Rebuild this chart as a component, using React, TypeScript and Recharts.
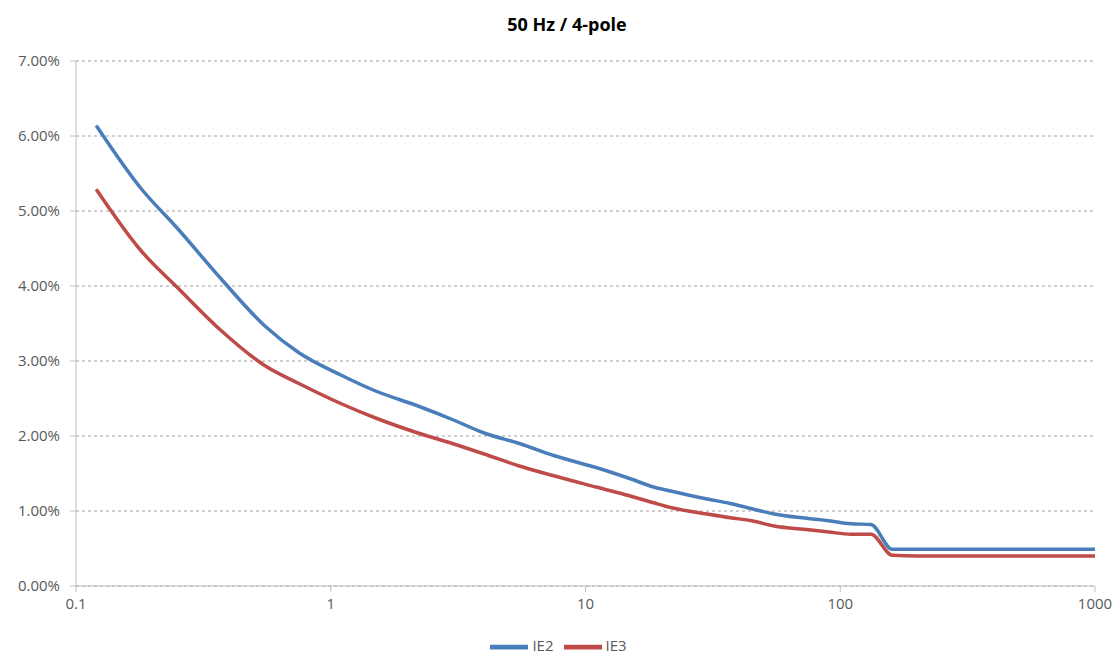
import React from 'react';
import { LineChart, Line, XAxis, YAxis, CartesianGrid, Legend } from 'recharts';

// motor rated power (kW)
const powers = [0.12, 0.18, 0.25, 0.37, 0.55, 0.75, 1.1, 1.5, 2.2, 3, 4, 5.5, 7.5, 11, 15, 18.5, 22, 30, 37, 45, 55, 75, 90, 110, 132, 160, 200, 250, 315, 355, 400, 450, 500, 560, 630, 710, 800, 900, 1000];

const ie2 = [6.14, 5.3, 4.77, 4.1, 3.47, 3.11, 2.81, 2.6, 2.4, 2.22, 2.04, 1.9, 1.74, 1.58, 1.43, 1.32, 1.26, 1.16, 1.1, 1.03, 0.96, 0.9, 0.87, 0.83, 0.82, 0.49, 0.49, 0.49, 0.49, 0.49, 0.49, 0.49, 0.49, 0.49, 0.49, 0.49, 0.49, 0.49, 0.49];
const ie3 = [5.29, 4.47, 3.98, 3.41, 2.94, 2.7, 2.43, 2.24, 2.04, 1.9, 1.76, 1.6, 1.47, 1.32, 1.2, 1.11, 1.04, 0.96, 0.91, 0.87, 0.8, 0.75, 0.72, 0.69, 0.69, 0.41, 0.4, 0.4, 0.4, 0.4, 0.4, 0.4, 0.4, 0.4, 0.4, 0.4, 0.4, 0.4, 0.4];

const xTicks = [0.1, 1, 10, 100, 1000];
const yTicks = [0, 1, 2, 3, 4, 5, 6, 7];

const data = powers.map((p, i) => ({ kw: p, IE2: ie2[i], IE3: ie3[i] }));

const FONT = '"Open Sans", "Liberation Sans", sans-serif';

export default function App() {
  return (
    <div style={{ position: 'absolute', left: 0, top: 0, width: 1118, height: 655, background: '#fff', fontFamily: FONT }}>
      <div style={{ position: 'absolute', top: 12, left: 0, width: 1134, textAlign: 'center', fontSize: 18, fontWeight: 'bold', color: '#000' }}>
        50 Hz / 4-pole
      </div>
      <LineChart width={1118} height={655} data={data} margin={{ top: 61, right: 23, bottom: 1, left: 0 }}>
        <CartesianGrid vertical={false} stroke="#a0a0a0" strokeDasharray="3 3" />
        <XAxis
          dataKey="kw"
          type="number"
          scale="log"
          domain={[0.1, 1000]}
          ticks={xTicks}
          tickFormatter={(v: number) => String(v)}
          stroke="#bfbfbf"
          tick={{ fill: '#595959', fontSize: 15, fontFamily: FONT }}
          tickSize={6}
          tickMargin={6}
          height={30}
          allowDataOverflow
        />
        <YAxis
          domain={[0, 7]}
          ticks={yTicks}
          tickFormatter={(v: number) => v.toFixed(2) + '%'}
          stroke="#bfbfbf"
          tick={{ fill: '#595959', fontSize: 15, fontFamily: FONT }}
          tickSize={6}
          tickMargin={10}
          width={76}
        />
        <Legend
          verticalAlign="bottom"
          align="center"
          iconType="plainline"
          iconSize={38}
          wrapperStyle={{ top: 628, paddingLeft: 16, fontSize: 15, fontFamily: FONT }}
          formatter={(value: string) => <span style={{ color: '#595959' }}>{value}</span>}
        />
        <Line type="monotone" dataKey="IE2" stroke="#4a7ebb" strokeWidth={3.5} dot={false} isAnimationActive={false} />
        <Line type="monotone" dataKey="IE3" stroke="#be4b48" strokeWidth={3.5} dot={false} isAnimationActive={false} />
      </LineChart>
    </div>
  );
}
